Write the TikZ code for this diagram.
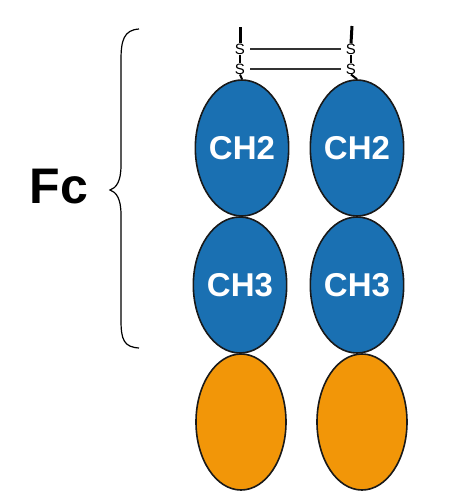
\documentclass[tikz,border=0pt]{standalone}
\usepackage{fontspec}
\setmainfont{Liberation Sans}
\usetikzlibrary{shapes.geometric}
\definecolor{fcblue}{HTML}{1A70B2}
\definecolor{fcorange}{HTML}{F29608}
\tikzset{
  igdomain/.style={ellipse, draw=black!90, line width=1.6pt, minimum width=90pt,
    minimum height=136pt, inner sep=0pt, text=white, font=\bfseries\fontsize{33}{33}\selectfont},
  sulfur/.style={inner sep=0pt, font=\fontsize{15}{15}\selectfont},
  bond/.style={line width=1.8pt, black!80},
  stub/.style={line width=3pt, black}
}
\begin{document}
\begin{tikzpicture}[x=1pt, y=-1pt]
 \useasboundingbox (0,0) rectangle (468,504);
 % CH2 domains
 \node[igdomain, fill=fcblue] (ch2l) at (242,148) {CH2};
 \node[igdomain, fill=fcblue] (ch2r) at (357,148) {CH2};
 % CH3 domains
 \node[igdomain, fill=fcblue] (ch3l) at (240,285) {CH3};
 \node[igdomain, fill=fcblue] (ch3r) at (357,285) {CH3};
 % untere Domaenen
 \node[igdomain, fill=fcorange] (bl) at (241,422) {};
 \node[igdomain, fill=fcorange] (br) at (362,422) {};

 % Disulfidbruecken
 \node[sulfur] (s1l) at (240,49) {S};
 \node[sulfur] (s2l) at (240,69) {S};
 \node[sulfur] (s1r) at (351,49) {S};
 \node[sulfur] (s2r) at (351,69) {S};
 \coordinate (tl) at (240,27);
 \coordinate (tr) at (352,26);
 \draw[stub] (tl) -- (s1l.north);
 \draw[stub] (tr) -- (s1r.north);
 \draw[stub, line width=2.5pt] (s1l.south) -- (s2l.north);
 \draw[stub, line width=2.5pt] (s1r.south) -- (s2r.north);
 \draw[line width=2pt] (s2l.south) -- (ch2l.north);
 \draw[line width=2pt] (s2r.south) -- (ch2r.north);
 \draw[bond, shorten <=5pt, shorten >=5pt] (s1l) -- (s1r);
 \draw[bond, shorten <=5pt, shorten >=5pt] (s2l) -- (s2r);

 % Klammer und Label
 \coordinate (bt) at (139,29);
 \coordinate (bb) at (139,348);
 \coordinate (btip) at (110,190);
 \draw[line width=1.2pt] (bt) .. controls (124,30) and (121,40) .. (121,60)
   -- (121,165) .. controls (121,182) and (116,188) .. (btip)
   .. controls (116,192) and (121,198) .. (121,215)
   -- (121,320) .. controls (121,340) and (124,347) .. (bb);
 \node[font=\bfseries\fontsize{50}{50}\selectfont] (fc) at (59,187) {Fc};
\end{tikzpicture}
\end{document}
